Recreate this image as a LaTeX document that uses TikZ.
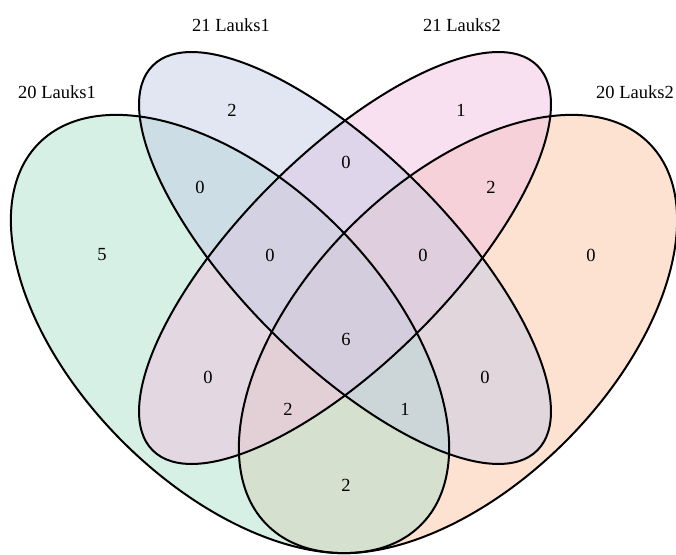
\documentclass[tikz,border=0pt]{standalone}
\usepackage{fontspec}
\setmainfont{Liberation Serif}
\usetikzlibrary{positioning}
\definecolor{lauksA}{RGB}{173,225,203}
\definecolor{lauksB}{RGB}{197,203,229}
\definecolor{lauksC}{RGB}{241,193,225}
\definecolor{lauksD}{RGB}{251,197,165}
\begin{document}
\begin{tikzpicture}[x=1pt,y=1pt,
    setfill/.style={fill opacity=0.5},
    setline/.style={draw=black,line width=2pt},
    setname/.style={font=\fontsize{18.5}{20}\selectfont},
    count/.style={font=\fontsize{18.5}{20}\selectfont}]
    \useasboundingbox (0,0) rectangle (676,554);
    % fills
    \fill[lauksD,setfill,rotate around={45:(458,220)}] (458,220) ellipse [x radius=270,y radius=152];
    \fill[lauksA,setfill,rotate around={-45:(230,220)}] (230,220) ellipse [x radius=270,y radius=152];
    \fill[lauksC,setfill,rotate around={45:(345,296)}] (345,296) ellipse [x radius=272,y radius=104];
    \fill[lauksB,setfill,rotate around={-45:(345,296)}] (345,296) ellipse [x radius=272,y radius=104];
    % outlines
    \draw[setline,rotate around={-45:(230,220)}] (230,220) ellipse [x radius=270,y radius=152];
    \draw[setline,rotate around={-45:(345,296)}] (345,296) ellipse [x radius=272,y radius=104];
    \draw[setline,rotate around={45:(345,296)}] (345,296) ellipse [x radius=272,y radius=104];
    \draw[setline,rotate around={45:(458,220)}] (458,220) ellipse [x radius=270,y radius=152];
    % set names
    \node[setname] at (57,462) (nameA) {20 Lauks1};
    \node[setname] at (231,529) (nameB) {21 Lauks1};
    \node[setname] at (462,529) (nameC) {21 Lauks2};
    \node[setname] at (635,462) (nameD) {20 Lauks2};
    % counts
    \node[count] at (102,299) (a) {5};
    \node[count] at (232,444) (b) {2};
    \node[count] at (461,444) (c) {1};
    \node[count] at (591,299) (d) {0};
    \node[count] at (200,367) (ab) {0};
    \node[count] at (346,392) (bc) {0};
    \node[count] at (491,367) (cd) {2};
    \node[count] at (270,299) (abc) {0};
    \node[count] at (423,299) (bcd) {0};
    \node[count] at (346,215) (abcd) {6};
    \node[count] at (208,177) (ac) {0};
    \node[count] at (485,177) (bd) {0};
    \node[count] at (288,145) (acd) {2};
    \node[count] at (405,145) (abd) {1};
    \node[count] at (346,69) (ad) {2};
\end{tikzpicture}
\end{document}
